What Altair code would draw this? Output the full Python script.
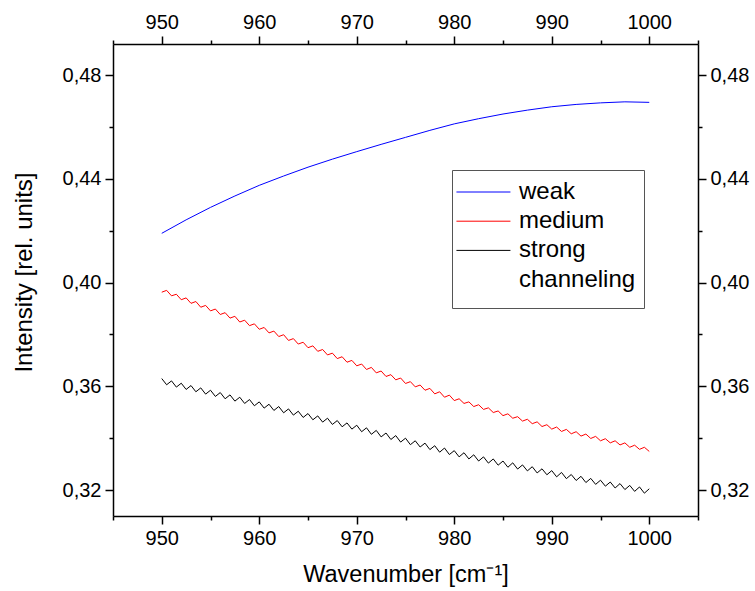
import altair as alt
import pandas as pd

# Sampling grid of the spectra (cm^-1): one sample every 0.5 cm^-1 from 950 to 1000
wavenumber = [950 + 0.5 * i for i in range(101)]

# "strong channeling" spectrum (black)
strong = [0.3630, 0.3606, 0.3621, 0.3597, 0.3612, 0.3588, 0.3603, 0.3579, 0.3594, 0.3570, 0.3585,
          0.3561, 0.3576, 0.3552, 0.3567, 0.3543, 0.3558, 0.3534, 0.3549, 0.3525, 0.3540,
          0.3516, 0.3531, 0.3507, 0.3522, 0.3498, 0.3513, 0.3489, 0.3504, 0.3480, 0.3495,
          0.3471, 0.3486, 0.3462, 0.3477, 0.3453, 0.3468, 0.3444, 0.3459, 0.3435, 0.3450,
          0.3425, 0.3440, 0.3415, 0.3430, 0.3405, 0.3420, 0.3395, 0.3410, 0.3385, 0.3400,
          0.3375, 0.3390, 0.3366, 0.3381, 0.3356, 0.3371, 0.3346, 0.3362, 0.3337, 0.3352,
          0.3328, 0.3344, 0.3320, 0.3336, 0.3312, 0.3328, 0.3304, 0.3320, 0.3296, 0.3312,
          0.3288, 0.3305, 0.3281, 0.3297, 0.3274, 0.3290, 0.3266, 0.3282, 0.3259, 0.3275,
          0.3251, 0.3268, 0.3244, 0.3260, 0.3237, 0.3253, 0.3229, 0.3245, 0.3222, 0.3238,
          0.3215, 0.3231, 0.3208, 0.3225, 0.3202, 0.3218, 0.3195, 0.3212, 0.3188, 0.3205]

# "medium" spectrum (red)
medium = [0.3963, 0.3970, 0.3949, 0.3955, 0.3934, 0.3941, 0.3920, 0.3927, 0.3905, 0.3912, 0.3891,
          0.3898, 0.3877, 0.3884, 0.3863, 0.3870, 0.3848, 0.3855, 0.3834, 0.3841, 0.3820,
          0.3827, 0.3806, 0.3813, 0.3792, 0.3799, 0.3777, 0.3784, 0.3763, 0.3770, 0.3749,
          0.3756, 0.3735, 0.3742, 0.3721, 0.3728, 0.3707, 0.3714, 0.3693, 0.3700, 0.3679,
          0.3686, 0.3665, 0.3673, 0.3652, 0.3659, 0.3638, 0.3645, 0.3625, 0.3632, 0.3611,
          0.3618, 0.3598, 0.3605, 0.3585, 0.3592, 0.3571, 0.3579, 0.3558, 0.3566, 0.3545,
          0.3552, 0.3534, 0.3540, 0.3522, 0.3529, 0.3511, 0.3517, 0.3499, 0.3505, 0.3487,
          0.3494, 0.3477, 0.3483, 0.3466, 0.3473, 0.3456, 0.3463, 0.3445, 0.3452, 0.3435,
          0.3443, 0.3426, 0.3434, 0.3417, 0.3425, 0.3408, 0.3416, 0.3399, 0.3407, 0.3390,
          0.3398, 0.3382, 0.3390, 0.3374, 0.3382, 0.3365, 0.3373, 0.3357, 0.3365, 0.3349]

# "weak" spectrum (blue), smooth
weak_x = [950, 952.5, 955, 957.5, 960, 962.5, 965, 967.5, 970, 972.5, 975,
          977.5, 980, 982.5, 985, 987.5, 990, 992.5, 995, 997.5, 1000]
weak = [0.4190, 0.4242, 0.4290, 0.4334, 0.4375, 0.4411, 0.4445, 0.4476, 0.4505, 0.4533, 0.4560,
        0.4587, 0.4612, 0.4632, 0.4650, 0.4665, 0.4678, 0.4687, 0.4693, 0.4697, 0.4695]

series_names = ["weak", "medium", "strong channeling"]
series_colors = ["#0000ff", "#ff0000", "#000000"]
# legend: the third label wraps onto a second row (no line sample), as in the original
legend_domain = series_names + ["(line 2)"]
legend_colors = series_colors + ["#ffffff"]

x_ticks = [945, 950, 955, 960, 965, 970, 975, 980, 985, 990, 995, 1000, 1005]
y_ticks = [0.32, 0.34, 0.36, 0.38, 0.40, 0.42, 0.44, 0.46, 0.48]

rows = []
for x, y in zip(weak_x, weak):
    rows.append({"wavenumber": x, "intensity": y, "series": "weak"})
for x, y in zip(wavenumber, medium):
    rows.append({"wavenumber": x, "intensity": y, "series": "medium"})
for x, y in zip(wavenumber, strong):
    rows.append({"wavenumber": x, "intensity": y, "series": "strong channeling"})
df = pd.DataFrame(rows)

FONT = "Liberation Sans"
x_scale = alt.Scale(domain=[945, 1005], nice=False, zero=False)
y_scale = alt.Scale(domain=[0.31, 0.492], nice=False, zero=False)

x_major = "round(datum.value) % 10 === 0"
y_major = "round(datum.value * 100) % 4 === 0"

def base_axis(orient, values, major, label_expr):
    return dict(
        orient=orient, values=values, grid=False, labelExpr=label_expr,
        tickSize={"condition": {"test": major, "value": 8}, "value": 4},
        tickColor="black", tickWidth=1.5, domainColor="black", domainWidth=1.5,
        labelFont=FONT, labelFontSize=20, labelColor="black", labelPadding=4,
        labelFlush=False, labelOverlap=False,
    )

def x_axis(orient, title=None):
    kw = base_axis(orient, x_ticks, x_major, f"{x_major} ? datum.label : ''")
    kw["format"] = "d"
    if title:
        kw.update(title=title, titleFont=FONT, titleFontSize=23.5, titleFontWeight="normal",
                  titleColor="black", titlePadding=14)
    else:
        kw.update(title=None)
    return alt.Axis(**kw)

def y_axis(orient, title=None):
    kw = base_axis(orient, y_ticks, y_major,
                   f"{y_major} ? replace(format(datum.value, '.2f'), '.', ',') : ''")
    if title:
        kw.update(title=title, titleFont=FONT, titleFontSize=24, titleFontWeight="normal",
                  titleColor="black", titlePadding=26, titleY=228)
    else:
        kw.update(title=None)
    return alt.Axis(**kw)

lines = alt.Chart(df).mark_line(strokeWidth=1, clip=True).encode(
    x=alt.X("wavenumber:Q", scale=x_scale, axis=x_axis("bottom", "Wavenumber [cm⁻¹]")),
    y=alt.Y("intensity:Q", scale=y_scale, axis=y_axis("left", "Intensity [rel. units]")),
    color=alt.Color(
        "series:N",
        scale=alt.Scale(domain=legend_domain, range=legend_colors),
        legend=alt.Legend(
            orient="none", legendX=339, legendY=126, title=" ", titleOrient="bottom",
            titleFontSize=4, titlePadding=4,
            symbolType="M-1.3,0H2.7", symbolSize=729, symbolStrokeWidth=1,
            symbolFillColor="transparent",
            labelFont=FONT, labelFontSize=24, labelColor="black", labelOffset=31,
            labelLimit=300, rowPadding=3.2, padding=8,
            strokeColor="#555555",
            labelExpr=("datum.label === 'strong channeling' ? 'strong' : "
                       "datum.label === '(line 2)' ? 'channeling' : datum.label"),
        ),
    ),
)

ghost = alt.Chart(df).mark_line(opacity=0).encode(
    x=alt.X("wavenumber:Q", scale=x_scale, axis=x_axis("top")),
    y=alt.Y("intensity:Q", scale=y_scale, axis=y_axis("right")),
    detail="series:N",
)

chart = alt.layer(lines, ghost).resolve_axis(x="independent", y="independent").properties(
    width=585, height=472,
    autosize=alt.AutoSizeParams(type="none"),
    padding={"left": 113, "top": 44, "right": 57, "bottom": 75},
).configure_view(stroke=None).configure(background="white")

chart.save("out.html", embed_options={"renderer": "svg", "actions": False})
